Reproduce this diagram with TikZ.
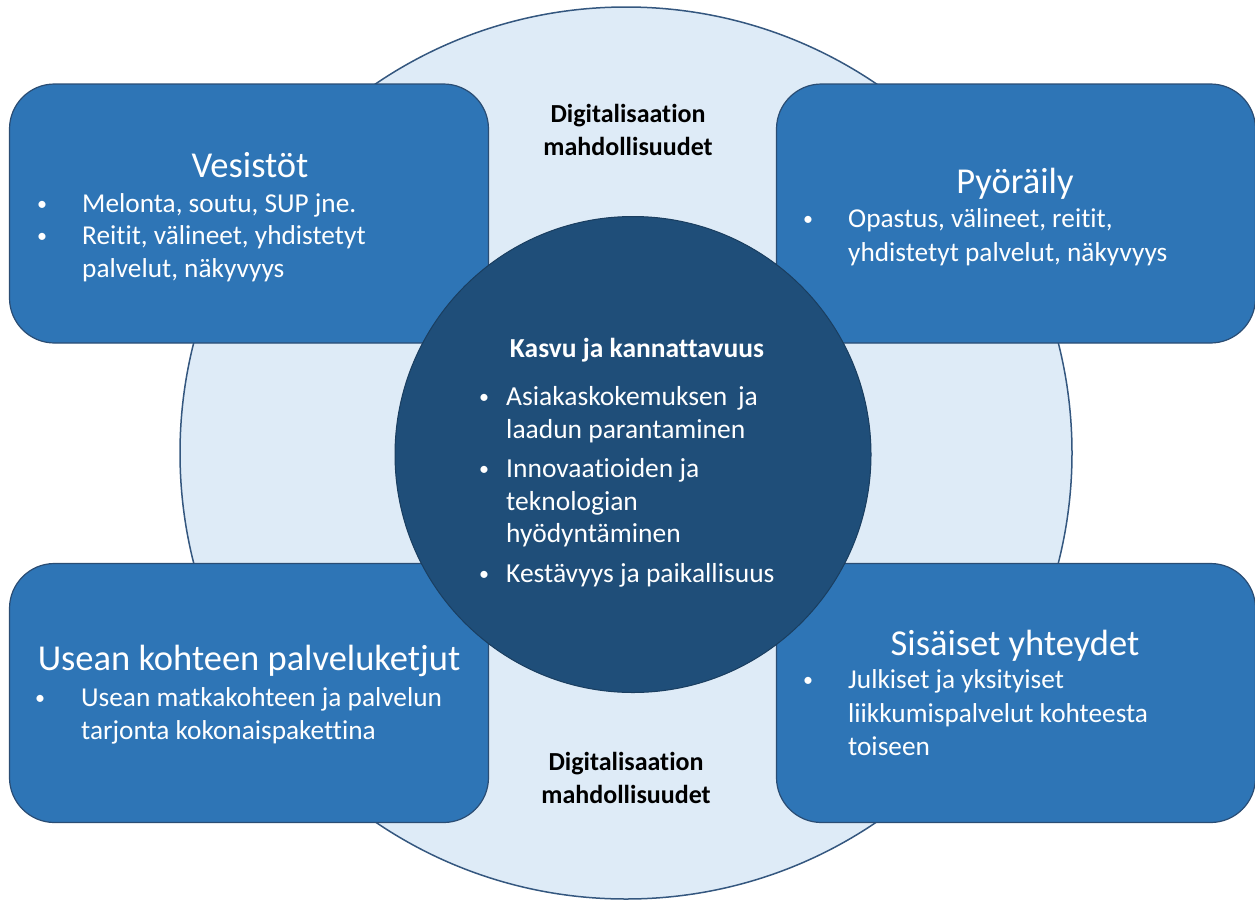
\documentclass[tikz,border=0pt]{standalone}
\usepackage{fontspec}
\setmainfont{Carlito}[Ligatures=NoCommon]
\definecolor{boxblue}{HTML}{2E75B6}
\definecolor{boxedge}{HTML}{2A4D74}
\definecolor{ringfill}{HTML}{DEEBF7}
\definecolor{ringedge}{HTML}{34577F}
\definecolor{corefill}{HTML}{1F4E79}
\definecolor{coreedge}{HTML}{1A3E60}
\begin{document}
\begin{tikzpicture}[x=1pt,y=-1pt,
  boxstyle/.style={draw=boxedge,fill=boxblue,line width=1.2pt,rounded corners=45pt,
    minimum width=479pt,minimum height=259pt,inner sep=0pt},
  txt/.style={text=white,font=\fontsize{27.3}{33}\selectfont,anchor=base west,inner sep=0pt},
  bul/.style={text=white,font=\fontsize{20}{33}\selectfont,anchor=base,inner sep=0pt},
  ttl/.style={text=white,font=\fontsize{36.5}{40}\selectfont,anchor=base,inner sep=0pt},
  ctxt/.style={text=white,font=\fontsize{27.5}{33}\selectfont,anchor=base west,inner sep=0pt},
  ctitle/.style={text=white,font=\bfseries\fontsize{27.5}{30}\selectfont,anchor=base,inner sep=0pt},
  dig/.style={text=black,font=\bfseries\fontsize{26}{33}\selectfont,anchor=base,inner sep=0pt}]
\useasboundingbox (0,0) rectangle (1255,900);
% outer ring
\node[circle,draw=ringedge,fill=ringfill,line width=1.5pt,minimum size=892pt,inner sep=0pt] (ring) at (626,453) {};
% boxes
\node[boxstyle] (bTL) at (249,213.5) {};
\node[boxstyle] (bTR) at (1016,213.5) {};
\node[boxstyle] (bBL) at (249,693) {};
\node[boxstyle] (bBR) at (1016,693) {};
% core
\node[circle,draw=coreedge,fill=corefill,line width=1pt,minimum size=476pt,inner sep=0pt] (core) at (633,454.5) {};
% ring labels
\node[dig] (d1) at (628,122) {Digitalisaation};
\node[dig] (d2) at (628,155) {mahdollisuudet};
\node[dig] (d3) at (626,770) {Digitalisaation};
\node[dig] (d4) at (626,803) {mahdollisuudet};
% top-left
\node[ttl] (t1) at (250,177) {Vesistöt};
\node[bul] (t1b1) at (42,210) {•};
\node[txt] (t1l1) at (82,212) {Melonta, soutu, SUP jne.};
\node[bul] (t1b2) at (42,242) {•};
\node[txt] (t1l2) at (82,244) {Reitit, välineet, yhdistetyt};
\node[txt] (t1l3) at (82,277) {palvelut, näkyvyys};
% top-right
\node[ttl] (t2) at (1015,193) {Pyöräily};
\node[bul] (t2b1) at (808,225) {•};
\node[txt] (t2l1) at (848,227) {Opastus, välineet, reitit,};
\node[txt] (t2l2) at (848,261) {yhdistetyt palvelut, näkyvyys};
% bottom-left
\node[ttl] (t3) at (249,670) {Usean kohteen palveluketjut};
\node[bul] (t3b1) at (40,704) {•};
\node[txt] (t3l1) at (81,706) {Usean matkakohteen ja palvelun};
\node[txt] (t3l2) at (81,739) {tarjonta kokonaispakettina};
% bottom-right
\node[ttl] (t4) at (1015,655) {Sisäiset yhteydet};
\node[bul] (t4b1) at (808,686) {•};
\node[txt] (t4l1) at (848,688) {Julkiset ja yksityiset};
\node[txt] (t4l2) at (848,722) {liikkumispalvelut kohteesta};
\node[txt] (t4l3) at (848,755) {toiseen};
% core text
\node[ctitle] (c0) at (637,357) {Kasvu ja kannattavuus};
\node[bul] (cb1) at (484,403) {•};
\node[ctxt] (c1) at (506,405) {Asiakaskokemuksen\, ja};
\node[ctxt] (c2) at (506,438) {laadun parantaminen};
\node[bul] (cb2) at (484,475) {•};
\node[ctxt] (c3) at (506,477) {Innovaatioiden ja};
\node[ctxt] (c4) at (506,510) {teknologian};
\node[ctxt] (c5) at (506,542) {hyödyntäminen};
\node[bul] (cb3) at (484,580) {•};
\node[ctxt] (c6) at (506,582) {Kestävyys ja paikallisuus};
\end{tikzpicture}
\end{document}
